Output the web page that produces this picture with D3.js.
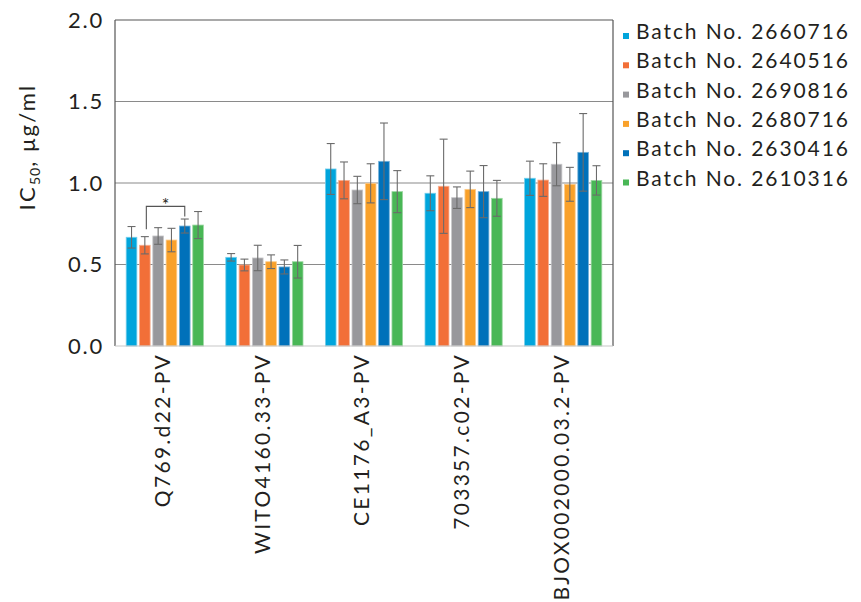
<!DOCTYPE html>
<html><head><meta charset="utf-8">
<script src="https://cdn.jsdelivr.net/npm/d3@7/dist/d3.min.js"></script>
<style>body{margin:0;background:#fff}svg{display:block}text{font-family:Lato,"Open Sans",sans-serif;fill:#231f20}</style>
</head><body><svg id="c" width="861" height="602"></svg>
<script>
const categories = ["Q769.d22-PV","WITO4160.33-PV","CE1176_A3-PV","703357.c02-PV","BJOX002000.03.2-PV"];
const seriesNames = ["Batch No. 2660716","Batch No. 2640516","Batch No. 2690816","Batch No. 2680716","Batch No. 2630416","Batch No. 2610316"];
const colors = ["#00a5dc","#f26f38","#98989c","#f9a12a","#0071ba","#49b756"];
// values[series][category]
const values = [
  [0.667,0.544,1.086,0.937,1.029],
  [0.618,0.497,1.016,0.980,1.018],
  [0.675,0.540,0.957,0.910,1.115],
  [0.650,0.517,0.998,0.961,0.992],
  [0.736,0.485,1.133,0.947,1.188],
  [0.742,0.517,0.947,0.906,1.016]
];
const errors = [
  [0.066,0.023,0.156,0.107,0.105],
  [0.053,0.036,0.113,0.289,0.100],
  [0.051,0.078,0.084,0.066,0.132],
  [0.072,0.042,0.120,0.112,0.104],
  [0.043,0.043,0.235,0.160,0.238],
  [0.083,0.100,0.129,0.110,0.090]
];
const yTicks = [0,0.5,1.0,1.5,2.0];
const sig = {category:"Q769.d22-PV", from:1, to:4, label:"*"};

const svg = d3.select("#c");
const L=115, R=613, T=20, B=346;
const x0 = d3.scaleBand().domain(categories).range([L,R]).padding(0);
const bw = x0.bandwidth();
const x1 = d3.scaleBand().domain(d3.range(seriesNames.length)).range([bw/2-38.6, bw/2+38.6]).paddingInner(0.2).paddingOuter(0);
const y = d3.scaleLinear().domain([0,2]).range([B,T]);

// gridlines
svg.append("g").selectAll("line").data(yTicks.filter(t=>t>0&&t<2)).join("line")
  .attr("x1",L).attr("x2",R).attr("y1",d=>y(d)).attr("y2",d=>y(d))
  .attr("stroke","#8a8a8a").attr("stroke-width",1.2);

// bars
const data = [];
categories.forEach((c,ci)=>seriesNames.forEach((s,si)=>data.push({c,ci,si,v:values[si][ci],e:errors[si][ci]})));
const g = svg.append("g");
g.selectAll("rect").data(data).join("rect")
  .attr("x",d=>x0(d.c)+x1(d.si)).attr("width",x1.bandwidth())
  .attr("y",d=>y(d.v)).attr("height",d=>y(0)-y(d.v))
  .attr("fill",d=>colors[d.si])
  .attr("stroke",d=>d3.interpolateRgb(colors[d.si],"#fff")(0.45)).attr("stroke-width",0.8);

// error bars
const eg = svg.append("g").attr("stroke","#6b6b6b").attr("stroke-width",1.1);
data.forEach(d=>{
  const cx = x0(d.c)+x1(d.si)+x1.bandwidth()/2;
  eg.append("line").attr("x1",cx).attr("x2",cx).attr("y1",y(d.v+d.e)).attr("y2",y(d.v-d.e));
  [d.v+d.e,d.v-d.e].forEach(v=>eg.append("line").attr("x1",cx-4).attr("x2",cx+4).attr("y1",y(v)).attr("y2",y(v)));
});

// significance bracket
{
  const ci = categories.indexOf(sig.category);
  const xa = x0(sig.category)+x1(sig.from)+x1.bandwidth()/2+1.5;
  const xb = x0(sig.category)+x1(sig.to)+x1.bandwidth()/2;
  const ya = y(values[sig.from][ci]+errors[sig.from][ci])-7.5;
  const yb = y(values[sig.to][ci]+errors[sig.to][ci])-2.6;
  const top = yb-10;
  svg.append("path").attr("d",`M${xa},${ya}V${top}H${xb}V${yb}`)
    .attr("fill","none").attr("stroke","#555").attr("stroke-width",1.1);
  svg.append("text").attr("x",(xa+xb)/2).attr("y",top+5).attr("text-anchor","middle")
    .style("font-size","18px").text(sig.label);
}

// frame
svg.append("line").attr("x1",L).attr("x2",R).attr("y1",T).attr("y2",T).attr("stroke","#555").attr("stroke-width",1.2);
svg.append("line").attr("x1",L).attr("x2",L).attr("y1",T).attr("y2",B).attr("stroke","#555").attr("stroke-width",1.2);
svg.append("line").attr("x1",R).attr("x2",R).attr("y1",T).attr("y2",B).attr("stroke","#555").attr("stroke-width",1.2);
svg.append("line").attr("x1",L).attr("x2",R).attr("y1",B).attr("y2",B).attr("stroke","#c8c8c8").attr("stroke-width",1.2);

// y axis labels
const yax = svg.append("g").attr("transform",`translate(${L},0)`)
  .call(d3.axisLeft(y).tickValues(yTicks).tickFormat(d3.format(".1f")).tickSize(0).tickPadding(11));
yax.select(".domain").remove();
yax.selectAll("text").style("font-size","22px").style("font-family","Lato, sans-serif")
  .style("letter-spacing","1.8px").attr("fill","#231f20");

// y title
const yt = svg.append("text").attr("transform","translate(35,147) rotate(-90)").attr("text-anchor","middle")
  .style("font-size","22px").style("letter-spacing","2.2px");
yt.append("tspan").text("IC");
yt.append("tspan").text("50").style("font-size","14px").style("letter-spacing","1px").attr("dy",5);
yt.append("tspan").text(", μg/ml").attr("dy",-5);

// x labels
const xax = svg.append("g").attr("transform",`translate(0,${B})`)
  .call(d3.axisBottom(x0).tickSize(0).tickPadding(0));
xax.select(".domain").remove();
xax.selectAll("text").attr("transform","rotate(-90)").attr("text-anchor","end")
  .attr("x",-7).attr("y",-2).attr("dy","0.35em").style("font-size","21px").style("font-family","Lato, sans-serif")
  .style("letter-spacing","2.3px").attr("fill","#231f20");

// legend
const lg = svg.append("g").selectAll("g").data(seriesNames).join("g")
  .attr("transform",(d,i)=>`translate(623,${39+i*29.3})`);
lg.append("rect").attr("x",0).attr("y",-6).attr("width",6).attr("height",6).attr("fill",(d,i)=>colors[i]);
lg.append("text").attr("x",13).attr("y",0).style("font-size","21px").style("letter-spacing","1.9px").text(d=>d);
</script></body></html>
